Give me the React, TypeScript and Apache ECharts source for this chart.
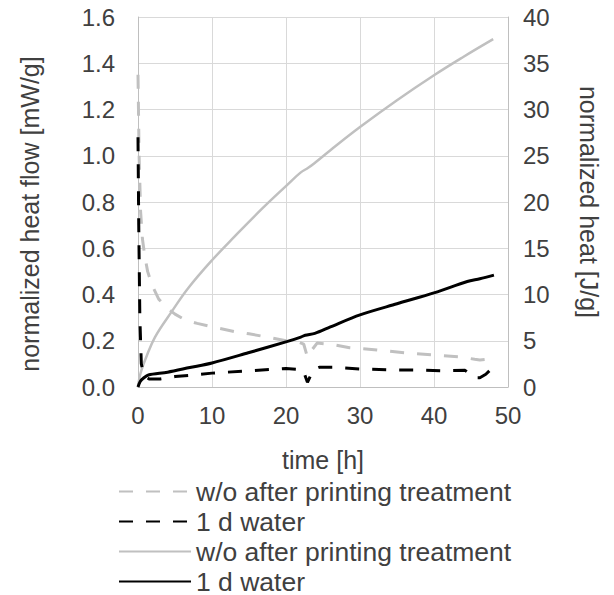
import React, { useEffect, useRef } from "react";
import * as echarts from "echarts";

// heat flow (left axis, mW/g)
const flowTimeWo = [0, 0.15, 0.35, 0.6, 0.9, 1.3, 1.9, 2.8, 4, 5, 6.4, 8, 10, 13, 15, 17.6, 20, 21.6, 22.4, 22.8, 23.1, 23.5, 24.2, 26, 28.6, 32.3, 36.4, 40, 43.5, 45.5, 46.2, 47, 47.8];
const flowWo = [1.35, 1.0, 0.76, 0.64, 0.57, 0.5, 0.44, 0.38, 0.34, 0.315, 0.29, 0.275, 0.26, 0.24, 0.23, 0.215, 0.2, 0.195, 0.185, 0.14, 0.13, 0.16, 0.19, 0.185, 0.17, 0.16, 0.147, 0.138, 0.13, 0.12, 0.117, 0.12, 0.125];

const flowTime1d = [0, 0.1, 0.25, 0.45, 0.8, 1.5, 3, 5, 7, 10, 15, 20, 22.3, 22.9, 23.7, 24.5, 26.4, 30, 34, 38, 41, 44.2, 45.5, 46.2, 47, 47.8];
const flow1d = [1.08, 0.7, 0.3, 0.1, 0.05, 0.035, 0.035, 0.045, 0.05, 0.06, 0.07, 0.08, 0.075, 0.02, 0.075, 0.085, 0.085, 0.078, 0.074, 0.073, 0.07, 0.072, 0.04, 0.04, 0.055, 0.08];

// normalized heat (right axis, J/g)
const heatTimeWo = [0, 0.2, 0.5, 1, 2.3, 4.6, 6.8, 10, 13.1, 16.8, 20.1, 22, 23, 24, 26, 30, 35, 40, 44, 48];
const heatWo = [0, 1.0, 1.9, 3.0, 5.4, 8.2, 10.7, 13.7, 16.3, 19.3, 21.8, 23.2, 23.7, 24.3, 25.6, 28.1, 31.0, 33.7, 35.7, 37.6];

const heatTime1d = [0, 0.3, 0.8, 1.4, 4, 7, 10, 14.9, 20.1, 22, 22.6, 23.9, 26, 30, 35, 40.1, 44.5, 46.2, 48.1];
const heat1d = [0, 0.6, 1.0, 1.3, 1.6, 2.1, 2.6, 3.7, 4.9, 5.4, 5.6, 5.8, 6.5, 7.8, 9.0, 10.2, 11.4, 11.7, 12.1];

const seriesNames = ["w/o after printing treatment", "1 d water", "w/o after printing treatment ", "1 d water "];
const leftTitle = "normalized heat flow [mW/g]";
const rightTitle = "normalized heat [J/g]";
const xTitle = "time [h]";

const zip = (t: number[], v: number[]) => t.map((x, i) => [x, v[i]]);

const FONT = "'Liberation Sans', Arial, sans-serif";
const TXT = "#404040";
const GRAY = "#c0c0c0";

export default function App() {
  const ref = useRef<HTMLDivElement>(null);
  useEffect(() => {
    document.body.style.margin = "0";
    const chart = echarts.init(ref.current!, null, { renderer: "svg" });
    const axisLine = { show: true, lineStyle: { color: "#bfbfbf", width: 1 } };
    const splitLine = { show: true, lineStyle: { color: "#d9d9d9", width: 1 } };
    const label = { color: TXT, fontSize: 24, fontFamily: FONT };
    chart.setOption({
      animation: false,
      grid: { left: 138, right: 106, top: 17, bottom: 208, containLabel: false },
      graphic: [
        {
          type: "text",
          x: 30,
          y: 214,
          rotation: Math.PI / 2,
          style: {
            text: leftTitle,
            fontSize: 25,
            fontFamily: FONT,
            fill: TXT,
            align: "center",
            verticalAlign: "middle",
          },
        },
      ],
      legend: {
        orient: "vertical",
        left: 118,
        top: 478,
        padding: 0,
        itemWidth: 72,
        itemHeight: 26,
        itemGap: 3,
        selectedMode: false,
        data: seriesNames,
        formatter: (n: string) => n.trim(),
        itemStyle: { opacity: 0 },
        textStyle: { color: TXT, fontSize: 26.5, fontFamily: FONT, lineHeight: 26 },
      },
      xAxis: {
        type: "value",
        min: 0,
        max: 50,
        interval: 10,
        name: xTitle,
        nameLocation: "middle",
        nameGap: 60,
        nameTextStyle: { color: TXT, fontSize: 25, fontFamily: FONT },
        axisLine,
        axisTick: { show: false },
        splitLine,
        axisLabel: { ...label, margin: 16 },
      },
      yAxis: [
        {
          type: "value",
          min: 0,
          max: 1.6,
          interval: 0.2,
          axisLine,
          axisTick: { show: false },
          splitLine,
          axisLabel: { ...label, margin: 23, formatter: (v: number) => v.toFixed(1) },
        },
        {
          type: "value",
          min: 0,
          max: 40,
          interval: 5,
          position: "right",
          name: rightTitle,
          nameLocation: "middle",
          nameGap: 68,
          nameRotate: -90,
          nameTextStyle: { color: TXT, fontSize: 25, fontFamily: FONT },
          axisLine,
          axisTick: { show: false },
          splitLine: { show: false },
          axisLabel: { ...label, margin: 15 },
        },
      ],
      series: [
        {
          name: seriesNames[0],
          type: "line",
          yAxisIndex: 0,
          symbol: "none",
          data: zip(flowTimeWo, flowWo),
          lineStyle: { color: GRAY, width: 3, type: [14, 13] },
          itemStyle: { color: GRAY },
          z: 2,
        },
        {
          name: seriesNames[1],
          type: "line",
          yAxisIndex: 0,
          symbol: "none",
          data: zip(flowTime1d, flow1d),
          lineStyle: { color: "#000", width: 3, type: [14, 13] },
          itemStyle: { color: "#000" },
          z: 3,
        },
        {
          name: seriesNames[2],
          type: "line",
          yAxisIndex: 1,
          symbol: "none",
          smooth: 0.4,
          data: zip(heatTimeWo, heatWo),
          lineStyle: { color: GRAY, width: 2.5 },
          itemStyle: { color: GRAY },
          z: 2,
        },
        {
          name: seriesNames[3],
          type: "line",
          yAxisIndex: 1,
          symbol: "none",
          smooth: 0.3,
          data: zip(heatTime1d, heat1d),
          lineStyle: { color: "#000", width: 3 },
          itemStyle: { color: "#000" },
          z: 4,
        },
      ],
    });
    return () => chart.dispose();
  }, []);
  return <div ref={ref} style={{ width: 614, height: 595 }} />;
}
